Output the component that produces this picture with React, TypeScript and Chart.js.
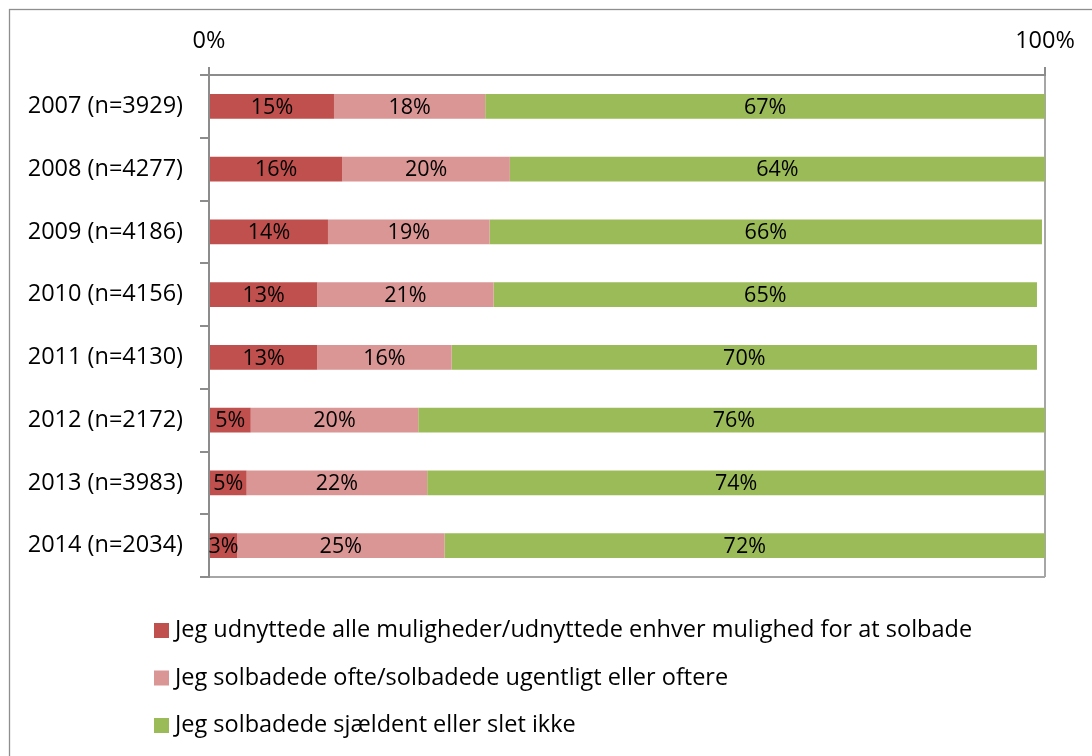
import React, { useEffect, useRef } from 'react';
import { Chart, registerables } from 'chart.js';

Chart.register(...registerables);

const categories = [
  '2007 (n=3929)',
  '2008 (n=4277)',
  '2009 (n=4186)',
  '2010 (n=4156)',
  '2011 (n=4130)',
  '2012 (n=2172)',
  '2013 (n=3983)',
  '2014 (n=2034)',
];

const seriesNames = [
  'Jeg udnyttede alle muligheder/udnyttede enhver mulighed for at solbade',
  'Jeg solbadede ofte/solbadede ugentligt eller oftere',
  'Jeg solbadede sjældent eller slet ikke',
];

const allOpportunities = [14.95, 15.94, 14.23, 12.95, 12.95, 4.99, 4.5, 3.35];
const oftenWeekly = [18.09, 20.05, 19.33, 21.09, 16.07, 20.04, 21.6, 24.83];
const rarelyNever = [66.96, 64.01, 66.08, 65.0, 70.02, 75.5, 73.9, 71.82];

const seriesColors = ['#C0504D', '#D99694', '#9BBB59'];

const xMin = 0;
const xMax = 100;
const xStep = 100;

const FONT = "'Open Sans', 'Noto Sans', sans-serif";
const AXIS_GRAY = '#8C8C8C';
const GRID_GRAY = '#A6A6A6';

const frameBox = {
  id: 'frameBox',
  beforeDraw(chart: any) {
    const { ctx } = chart;
    ctx.save();
    ctx.strokeStyle = '#8E8E8E';
    ctx.lineWidth = 1.3;
    ctx.strokeRect(9.5, 9.5, 1200, 900);
    ctx.restore();
  },
};

const segmentLabels = {
  id: 'segmentLabels',
  afterDatasetsDraw(chart: any) {
    const { ctx } = chart;
    ctx.save();
    ctx.font = `21.5px ${FONT}`;
    ctx.fillStyle = '#000000';
    ctx.textAlign = 'center';
    ctx.textBaseline = 'middle';
    chart.data.datasets.forEach((ds: any, di: number) => {
      const meta = chart.getDatasetMeta(di);
      meta.data.forEach((el: any, i: number) => {
        const { x, y, base } = el.getProps(['x', 'y', 'base'], true);
        const v = ds.data[i];
        ctx.fillText(Math.round(v) + '%', (x + base) / 2, y + 1);
      });
    });
    ctx.restore();
  },
};

const stackedLegend = {
  id: 'stackedLegend',
  afterDraw(chart: any) {
    const { ctx } = chart;
    ctx.save();
    ctx.font = `23.5px ${FONT}`;
    ctx.textAlign = 'left';
    ctx.textBaseline = 'middle';
    chart.data.datasets.forEach((ds: any, i: number) => {
      const cy = 630.5 + i * 47.5;
      ctx.fillStyle = ds.backgroundColor;
      ctx.fillRect(154, cy - 7.5, 15, 15);
      ctx.fillStyle = '#000000';
      ctx.fillText(ds.label, 175, cy);
    });
    ctx.restore();
  },
};

export default function App() {
  const canvasRef = useRef<HTMLCanvasElement | null>(null);

  useEffect(() => {
    if (!canvasRef.current) return;
    const seriesData = [allOpportunities, oftenWeekly, rarelyNever];
    const chart = new Chart(canvasRef.current, {
      type: 'bar',
      data: {
        labels: categories,
        datasets: seriesNames.map((name, i) => ({
          label: name,
          data: seriesData[i],
          backgroundColor: seriesColors[i],
          borderWidth: 0,
          barPercentage: 0.395,
          categoryPercentage: 1,
        })),
      },
      options: {
        indexAxis: 'y',
        responsive: false,
        animation: false,
        devicePixelRatio: 1,
        layout: { padding: { left: 0, right: 47, top: 0, bottom: 179 } },
        plugins: {
          legend: { display: false },
          title: { display: false },
          tooltip: { enabled: false },
        },
        scales: {
          x: {
            position: 'top',
            stacked: true,
            min: xMin,
            max: xMax,
            ticks: {
              stepSize: xStep,
              color: '#000000',
              font: { size: 23.5, family: FONT },
              padding: 12,
              maxRotation: 0,
              callback: (v: any) => v + '%',
            },
            grid: {
              color: (ctx: any) => (ctx.tick && ctx.tick.value === xMax ? GRID_GRAY : 'rgba(0,0,0,0)'),
              tickColor: AXIS_GRAY,
              lineWidth: 2,
              tickLength: 8,
            },
            border: { color: AXIS_GRAY, width: 2 },
            afterFit: (s: any) => {
              s.height = 75;
            },
          },
          y: {
            stacked: true,
            ticks: {
              color: '#000000',
              font: { size: 23.5, family: FONT },
              padding: 17,
            },
            grid: {
              offset: true,
              color: (ctx: any) => (ctx.tick ? 'rgba(0,0,0,0)' : GRID_GRAY),
              tickColor: AXIS_GRAY,
              lineWidth: 2,
              tickLength: 9,
            },
            border: { color: AXIS_GRAY, width: 2 },
            afterFit: (s: any) => {
              s.width = 209;
            },
          },
        },
      },
      plugins: [frameBox, segmentLabels, stackedLegend],
    });
    return () => chart.destroy();
  }, []);

  return (
    <div style={{ position: 'fixed', left: 0, top: 0, width: 1092, height: 756, background: '#ffffff' }}>
      <canvas ref={canvasRef} width={1092} height={756} style={{ display: 'block' }} />
    </div>
  );
}
